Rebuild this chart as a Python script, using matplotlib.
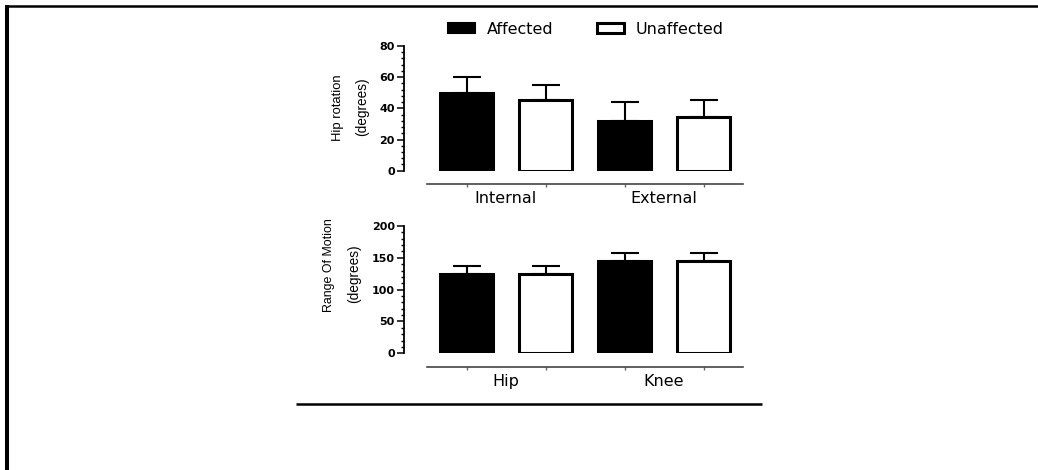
import matplotlib
matplotlib.use("Agg")
import matplotlib.pyplot as plt
from matplotlib.lines import Line2D
from matplotlib.patches import Patch
import numpy as np

# ---------------- data ----------------
series_names = ["Affected", "Unaffected"]

rot_categories = ["Internal", "External"]
rot_affected = [50.0, 32.0]
rot_affected_err = [10.0, 12.2]
rot_unaffected = [45.3, 34.4]
rot_unaffected_err = [9.7, 10.9]
rot_yticks = [0, 20, 40, 60, 80]

rom_categories = ["Hip", "Knee"]
rom_affected = [124.6, 145.5]
rom_affected_err = [13.0, 12.1]
rom_unaffected = [124.6, 145.5]
rom_unaffected_err = [13.0, 12.4]
rom_yticks = [0, 50, 100, 150, 200]

# ---------------- figure ----------------
W, H = 1038, 470
fig = plt.figure(figsize=(W / 100, H / 100), dpi=100)
fig.patch.set_facecolor("white")

LABEL_FONT = "DejaVu Sans"
NARROW = ["Liberation Sans Narrow", "Liberation Sans", "DejaVu Sans"]


def px_rect(left, right, ytop, ybot):
    return [left / W, 1 - ybot / H, (right - left) / W, (ybot - ytop) / H]


def panel(rect, cats, aff, aff_err, unaff, unaff_err, yticks, minor_step):
    ax = fig.add_axes(rect)
    x = np.arange(len(cats))
    off = 0.25
    width = 0.33
    ax.bar(x - off, aff, width, color="black", edgecolor="black",
           linewidth=2.2, zorder=3)
    ax.bar(x + off, unaff, width, color="white", edgecolor="black",
           linewidth=2.2, zorder=3)
    zeros = np.zeros(len(cats))
    ax.errorbar(x - off, aff, yerr=[zeros, aff_err], fmt="none",
                ecolor="black", elinewidth=1.5, capsize=10, capthick=1.5,
                zorder=2)
    ax.errorbar(x + off, unaff, yerr=[zeros, unaff_err], fmt="none",
                ecolor="black", elinewidth=1.5, capsize=10, capthick=1.5,
                zorder=2)
    ax.set_xlim(-0.5, 1.5)
    ax.set_ylim(yticks[0], yticks[-1])
    for s in ["top", "right"]:
        ax.spines[s].set_visible(False)
    ax.spines["left"].set_position(("outward", 16.6))
    ax.spines["bottom"].set_position(("outward", 9.6))
    ax.spines["left"].set_linewidth(1.3)
    ax.spines["bottom"].set_linewidth(1.2)
    ax.spines["bottom"].set_color("#444444")
    ax.set_yticks(yticks)
    ax.set_yticks(np.arange(yticks[0], yticks[-1] + 0.01, minor_step), minor=True)
    ax.tick_params(axis="y", which="major", direction="out", length=5,
                   width=1.1, pad=1.5, labelsize=8)
    ax.tick_params(axis="y", which="minor", direction="out", length=2.5,
                   width=1.0)
    for lab in ax.get_yticklabels():
        lab.set_fontweight("bold")
        lab.set_family(LABEL_FONT)
    bar_pos = np.concatenate([x - off, x + off])
    ax.set_xticks(np.sort(bar_pos))
    ax.set_xticklabels([])
    ax.set_xticks(x, minor=True)
    ax.set_xticklabels(cats, minor=True, fontsize=11.5, family=LABEL_FONT)
    ax.tick_params(axis="x", which="major", direction="out", length=2.5,
                   width=1.0, color="#666666")
    ax.tick_params(axis="x", which="minor", length=0, pad=5)
    ax.set_facecolor("none")
    return ax


ax1 = panel(px_rect(427, 743, 46, 170.7), rot_categories, rot_affected,
            rot_affected_err, rot_unaffected, rot_unaffected_err, rot_yticks, 4)
ax2 = panel(px_rect(427, 743, 226, 353.3), rom_categories, rom_affected,
            rom_affected_err, rom_unaffected, rom_unaffected_err, rom_yticks, 10)

# y labels (two lines each)
fig.text(338 / W, 1 - 107.5 / H, "Hip rotation", rotation=90, ha="center",
         va="center", fontsize=9.4, family=NARROW)
fig.text(362 / W, 1 - 107 / H, "(degrees)", rotation=90, ha="center",
         va="center", fontsize=9.8, family=NARROW)
fig.text(329 / W, 1 - 265 / H, "Range Of Motion", rotation=90, ha="center",
         va="center", fontsize=8.9, family=NARROW)
fig.text(354 / W, 1 - 274 / H, "(degrees)", rotation=90, ha="center",
         va="center", fontsize=9.8, family=NARROW)

# legend
handles = [Patch(facecolor="black", edgecolor="black", linewidth=1.5),
           Patch(facecolor="white", edgecolor="black", linewidth=2.2)]
fig.legend(handles, series_names, loc="center", ncol=2, frameon=False,
           bbox_to_anchor=(586 / W, 1 - 29 / H),
           prop={"family": LABEL_FONT, "size": 11.5},
           handlelength=1.7, handleheight=0.62, handletextpad=0.75,
           columnspacing=2.7)

# document frame lines
fig.add_artist(Line2D([5 / W, 1.0], [1 - 6.2 / H, 1 - 6.2 / H],
                      transform=fig.transFigure, color="black", linewidth=1.8,
                      solid_capstyle="butt"))
fig.add_artist(Line2D([7 / W, 7 / W], [0.0, 1 - 5 / H],
                      transform=fig.transFigure, color="black", linewidth=2.9,
                      solid_capstyle="butt"))
fig.add_artist(Line2D([296 / W, 762 / W], [1 - 403.5 / H, 1 - 403.5 / H],
                      transform=fig.transFigure, color="black", linewidth=1.8,
                      solid_capstyle="butt"))

fig.savefig("out.png", dpi=100)
